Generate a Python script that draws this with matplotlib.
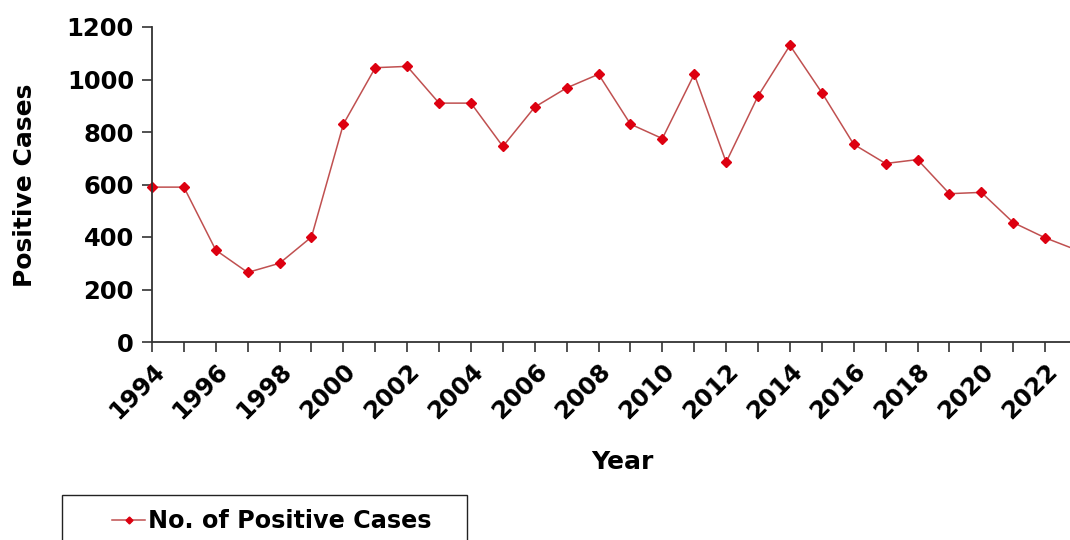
import matplotlib
matplotlib.use("Agg")
import matplotlib.pyplot as plt
from matplotlib.patches import Rectangle

years = list(range(1994, 2024))
cases = [590, 590, 350, 265, 300, 400, 830, 1045, 1050, 910,
         910, 745, 895, 968, 1020, 830, 775, 1020, 685, 937,
         1130, 950, 753, 680, 695, 565, 570, 455, 397, 350]
series_label = "No. of Positive Cases"
x_title = "Year"
y_title = "Positive Cases"
y_ticks = [0, 200, 400, 600, 800, 1000, 1200]

plt.rcParams['font.family'] = 'DejaVu Sans'
plt.rcParams['font.weight'] = 'bold'

fig = plt.figure(figsize=(10.7, 5.4), dpi=100)
# axes runs a little past the right edge, as in the reference (last point clipped)
ax = fig.add_axes([152 / 1070, 1 - 342 / 540, 925 / 1070, 315 / 540])

ax.plot(years, cases, color='#c05050', linewidth=1.1, marker='D',
        markersize=5, markerfacecolor='#dd0010', markeredgecolor='#dd0010',
        label=series_label, clip_on=False)

ax.set_xlim(1994, 2023)
ax.set_ylim(0, 1200)
ax.set_yticks(y_ticks)
ax.set_xticks(years, minor=True)
ax.set_xticks(years[::2])
ax.set_xticklabels([str(y) for y in years[::2]], rotation=45, ha='right',
                   va='top', rotation_mode='anchor')

for s in ['top', 'right']:
    ax.spines[s].set_visible(False)
for s in ['left', 'bottom']:
    ax.spines[s].set_color('#333333')
    ax.spines[s].set_linewidth(1.3)

ax.tick_params(axis='both', which='both', direction='out', length=7,
               width=1.2, color='#333333', labelsize=17.5)
ax.tick_params(axis='x', which='major', pad=5)
ax.tick_params(axis='y', pad=6)

ax.set_xlabel(x_title, fontsize=18, fontweight='bold', va='center')
ax.xaxis.set_label_coords(0.508, -0.381)
ax.set_ylabel(y_title, fontsize=18, fontweight='bold', va='center')
ax.yaxis.set_label_coords(-0.137, 0.498)

# legend box, cut off by the bottom edge like the reference
fig.patches.append(Rectangle((62 / 1070, -10 / 540), 405 / 1070, 55 / 540,
                             transform=fig.transFigure, fill=False,
                             edgecolor='#222222', linewidth=1.0))
leg = ax.legend(loc='center left', bbox_to_anchor=(100 / 1070, 1 - 521 / 540),
                bbox_transform=fig.transFigure, frameon=False,
                fontsize=17.2, handlelength=1.4, handletextpad=0.1,
                borderpad=0, markerscale=0.7)

fig.savefig("out.png", dpi=100)
